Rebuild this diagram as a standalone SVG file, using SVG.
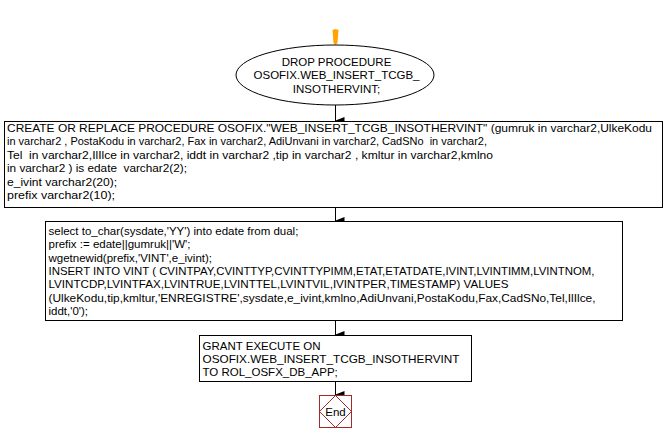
<svg xmlns="http://www.w3.org/2000/svg" width="668" height="442" viewBox="0 0 668 442">
<style>
.t{font-family:"Liberation Sans",Arial,sans-serif;font-size:11.5px;fill:#000}
.box{fill:#fff;stroke:#000;stroke-width:1}
.c{stroke:#000;stroke-width:1;fill:none}
</style>
<defs>
<marker id="ah" markerWidth="8" markerHeight="11" refX="4" refY="10" orient="auto" markerUnits="userSpaceOnUse" viewBox="0 0 8 11">
<path d="M0,1 L8,1 L4,11 Z" fill="#000"/>
</marker>
</defs>
<rect width="668" height="442" fill="#fff"/>
<g id="connectors">
<path d="M335.5,29 L338.5,30 L337.5,43 L335.5,45 L333.5,43 L332.5,30 Z" fill="#FFA500"/>
<line class="c" x1="335.5" y1="105" x2="335.5" y2="121" marker-end="url(#ah)"/>
<line class="c" x1="335.5" y1="207" x2="335.5" y2="221" marker-end="url(#ah)"/>
<line class="c" x1="335.5" y1="321" x2="335.5" y2="335" marker-end="url(#ah)"/>
<line class="c" x1="335.5" y1="381" x2="335.5" y2="395" marker-end="url(#ah)"/>
</g>
<g id="drop">
<ellipse class="box" cx="335" cy="75" rx="99" ry="30"/>
<text class="t" text-anchor="middle" x="336.5" y="65.5">DROP PROCEDURE</text>
<text class="t" text-anchor="middle" x="336.5" y="79">OSOFIX.WEB_INSERT_TCGB_</text>
<text class="t" text-anchor="middle" x="336.5" y="92.5">INSOTHERVINT;</text>
</g>
<g id="create">
<rect class="box" x="4.5" y="121.5" width="658" height="86"/>
<text class="t" xml:space="preserve" x="7" y="131.5" textLength="645" lengthAdjust="spacingAndGlyphs">CREATE OR REPLACE PROCEDURE OSOFIX."WEB_INSERT_TCGB_INSOTHERVINT" (gumruk in varchar2,UlkeKodu</text>
<text class="t" xml:space="preserve" x="7" y="145" textLength="480" lengthAdjust="spacingAndGlyphs">in varchar2 , PostaKodu in varchar2, Fax in varchar2, AdiUnvani in varchar2, CadSNo  in varchar2,</text>
<text class="t" xml:space="preserve" x="7" y="158.5" textLength="486" lengthAdjust="spacingAndGlyphs">Tel  in varchar2,IlIlce in varchar2, iddt in varchar2 ,tip in varchar2 , kmltur in varchar2,kmlno</text>
<text class="t" xml:space="preserve" x="7" y="172" textLength="180" lengthAdjust="spacingAndGlyphs">in varchar2 ) is edate  varchar2(2);</text>
<text class="t" x="7" y="185.5" textLength="110" lengthAdjust="spacingAndGlyphs">e_ivint varchar2(20);</text>
<text class="t" x="7" y="199" textLength="108" lengthAdjust="spacingAndGlyphs">prefix varchar2(10);</text>
</g>
<g id="body">
<rect class="box" x="45.5" y="221.5" width="577" height="99"/>
<text class="t" x="48.5" y="235">select to_char(sysdate,'YY') into edate from dual;</text>
<text class="t" x="48.5" y="248.3">prefix := edate||gumruk||'W';</text>
<text class="t" x="48.5" y="261.6">wgetnewid(prefix,'VINT',e_ivint);</text>
<text class="t" x="48.5" y="274.9" textLength="546" lengthAdjust="spacingAndGlyphs">INSERT INTO VINT ( CVINTPAY,CVINTTYP,CVINTTYPIMM,ETAT,ETATDATE,IVINT,LVINTIMM,LVINTNOM,</text>
<text class="t" x="48.5" y="288.2" textLength="460" lengthAdjust="spacingAndGlyphs">LVINTCDP,LVINTFAX,LVINTRUE,LVINTTEL,LVINTVIL,IVINTPER,TIMESTAMP) VALUES</text>
<text class="t" x="48.5" y="301.5" textLength="547" lengthAdjust="spacingAndGlyphs">(UlkeKodu,tip,kmltur,'ENREGISTRE',sysdate,e_ivint,kmlno,AdiUnvani,PostaKodu,Fax,CadSNo,Tel,IlIlce,</text>
<text class="t" x="48.5" y="314.8">iddt,'0');</text>
</g>
<g id="grant">
<rect class="box" x="199.5" y="335.5" width="272" height="46"/>
<text class="t" x="202.5" y="349.5">GRANT EXECUTE ON</text>
<text class="t" x="202.5" y="362.8" textLength="257" lengthAdjust="spacingAndGlyphs">OSOFIX.WEB_INSERT_TCGB_INSOTHERVINT</text>
<text class="t" x="202.5" y="376">TO ROL_OSFX_DB_APP;</text>
</g>
<g id="end">
<rect x="319.5" y="395.5" width="32" height="32" fill="#fff" stroke="#A52A2A" stroke-width="1"/>
<path d="M335.5,395.5 L351.5,411.5 L335.5,427.5 L319.5,411.5 Z" fill="none" stroke="#A52A2A" stroke-width="1"/>
<text class="t" text-anchor="middle" x="335.5" y="415.5">End</text>
</g>
</svg>
